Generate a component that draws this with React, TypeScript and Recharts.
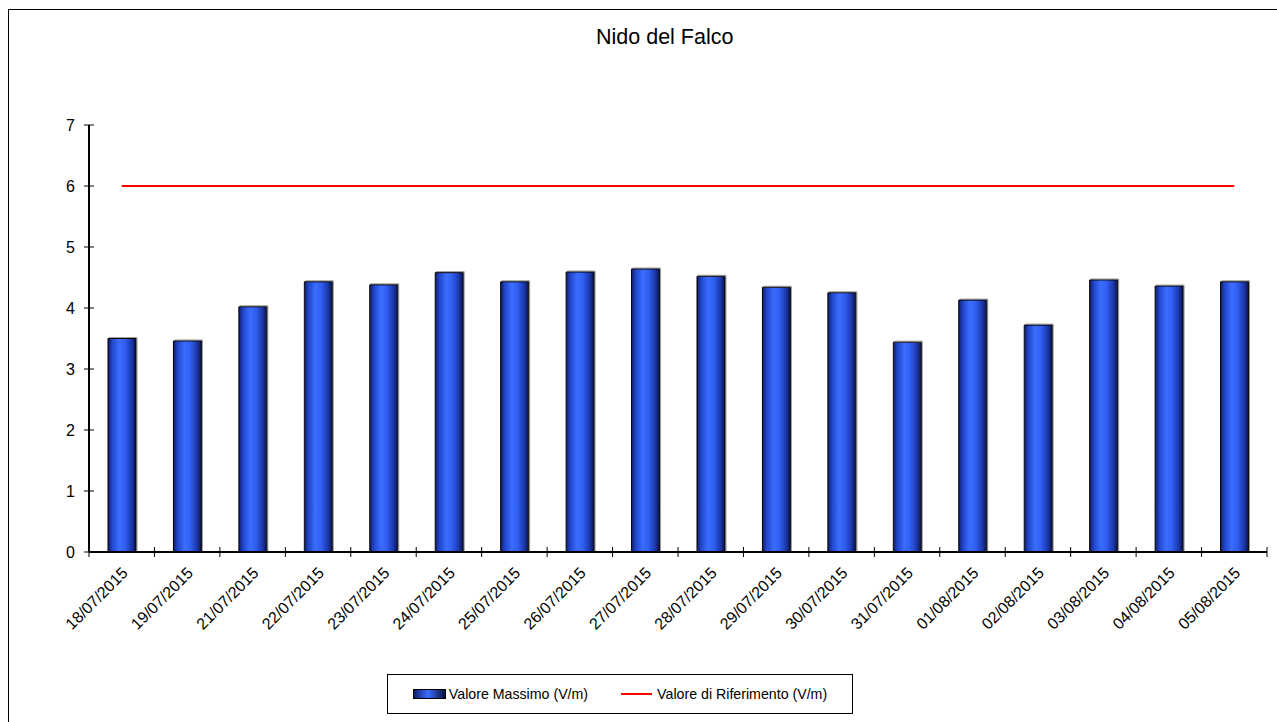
import { Bar, ComposedChart, Line, XAxis, YAxis } from "recharts";

const dates = [
  "18/07/2015", "19/07/2015", "21/07/2015", "22/07/2015", "23/07/2015", "24/07/2015",
  "25/07/2015", "26/07/2015", "27/07/2015", "28/07/2015", "29/07/2015", "30/07/2015",
  "31/07/2015", "01/08/2015", "02/08/2015", "03/08/2015", "04/08/2015", "05/08/2015",
];
const maxValues = [
  3.5, 3.46, 4.02, 4.43, 4.38, 4.58, 4.43, 4.59, 4.64, 4.52, 4.34, 4.25, 3.44, 4.13,
  3.72, 4.46, 4.36, 4.43,
];
const refValues = dates.map(() => 6);
const yTicks = [0, 1, 2, 3, 4, 5, 6, 7];

const data = dates.map((d, i) => ({ date: d, max: maxValues[i], limit: refValues[i] }));

const FONT = "'Liberation Sans', Arial, sans-serif";

// date label + tick marks on the category boundaries
function DateTick(props: any) {
  const { x, y, payload, index } = props;
  const half = payload?.offset ?? 0;
  const last = index === dates.length - 1;
  return (
    <g>
      <line x1={x - half} x2={x - half} y1={y - 5} y2={y + 5} stroke="#000" strokeWidth={1} />
      {last && <line x1={x + half} x2={x + half} y1={y - 5} y2={y + 5} stroke="#000" strokeWidth={1} />}
      <g transform={`translate(${x + 7},${y + 22})`}>
        <text x={0} y={0} textAnchor="end" transform="rotate(-45)" fontSize={16} fill="#000" fontFamily={FONT}>
          {payload.value}
        </text>
      </g>
    </g>
  );
}

function ValueTick(props: any) {
  const { x, y, payload } = props;
  return (
    <g>
      <line x1={x - 5} x2={x + 5} y1={y} y2={y} stroke="#000" strokeWidth={1} />
      <text x={x - 14} y={y} dy="0.36em" textAnchor="end" fontSize={16} fill="#000" fontFamily={FONT}>
        {payload.value}
      </text>
    </g>
  );
}

export default function App() {
  return (
    <div style={{ position: "absolute", left: 0, top: 0, width: 1277, height: 722, overflow: "hidden", background: "#fff", fontFamily: FONT }}>
      <div style={{ position: "absolute", left: 8, top: 9, width: 1300, height: 800, border: "1px solid #000" }} />
      <div style={{ position: "absolute", left: 596, top: 25, fontSize: 21.5, color: "#000", whiteSpace: "nowrap" }}>
        Nido del Falco
      </div>
      <div style={{ position: "absolute", left: 0, top: 0 }}>
        <ComposedChart width={1277} height={722} data={data} margin={{ top: 125, right: 10, bottom: 70, left: 29 }} barSize={28}>
          <defs>
            <linearGradient id="barGrad" x1="0" y1="0" x2="1" y2="0">
              <stop offset="0%" stopColor="#0f1d6b" />
              <stop offset="15%" stopColor="#2246c8" />
              <stop offset="40%" stopColor="#3a6dff" />
              <stop offset="60%" stopColor="#305ff2" />
              <stop offset="85%" stopColor="#1b36a8" />
              <stop offset="100%" stopColor="#0a1240" />
            </linearGradient>
            <filter id="barShadow" x="-20%" y="-5%" width="140%" height="110%">
              <feDropShadow dx={1} dy={-1} stdDeviation={0.6} floodColor="#888" floodOpacity={0.8} />
            </filter>
          </defs>
          <XAxis
            dataKey="date"
            interval={0}
            tick={<DateTick />}
            tickLine={false}
            axisLine={{ stroke: "#000", strokeWidth: 2 }}
            tickSize={0}
            tickMargin={0}
            height={100}
          />
          <YAxis
            domain={[0, 7]}
            ticks={yTicks}
            interval={0}
            width={60}
            axisLine={{ stroke: "#000", strokeWidth: 2 }}
            tickLine={false}
            tickSize={0}
            tickMargin={0}
            tick={<ValueTick />}
          />
          <Bar
            dataKey="max"
            name="Valore Massimo (V/m)"
            fill="url(#barGrad)"
            stroke="#000"
            strokeWidth={1}
            filter="url(#barShadow)"
            isAnimationActive={false}
          />
          <Line
            dataKey="limit"
            name="Valore di Riferimento (V/m)"
            stroke="#ff0000"
            strokeWidth={2}
            dot={false}
            activeDot={false}
            isAnimationActive={false}
          />
        </ComposedChart>
      </div>
      <div
        style={{
          position: "absolute", left: 387, top: 674, width: 466, height: 40, boxSizing: "border-box",
          border: "1px solid #000", display: "flex", alignItems: "center", justifyContent: "center",
          fontSize: 14.2, color: "#000", gap: 33, whiteSpace: "nowrap",
        }}
      >
        <span style={{ display: "flex", alignItems: "center" }}>
          <span style={{ display: "inline-block", width: 31, height: 8, border: "1px solid #000", background: "linear-gradient(to right, #0f1d6b, #3a6dff 45%, #0a1240)", marginRight: 3 }} />
          Valore Massimo (V/m)
        </span>
        <span style={{ display: "flex", alignItems: "center" }}>
          <span style={{ display: "inline-block", width: 31, height: 2, background: "#ff0000", marginRight: 5 }} />
          Valore di Riferimento (V/m)
        </span>
      </div>
    </div>
  );
}
